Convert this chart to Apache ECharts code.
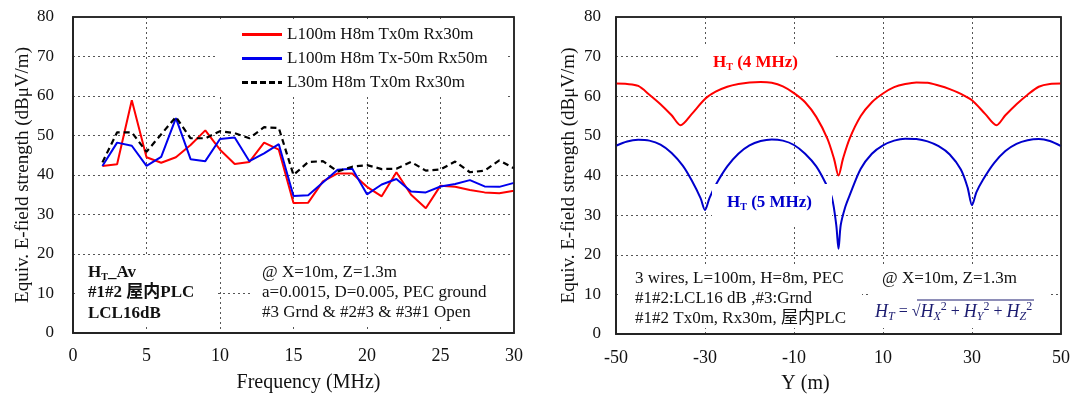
<!DOCTYPE html>
<html>
<head>
<meta charset="utf-8">
<script src="https://cdn.jsdelivr.net/npm/echarts@6/dist/echarts.min.js"></script>
<style>
html, body { margin: 0; padding: 0; background: #fff; }
#main { width: 1072px; height: 394px; }
</style>
</head>
<body>
<div id="main"></div>
<script>
// left panel: E-field vs frequency
var freqMHz = [2, 3, 4, 5, 6, 7, 8, 9, 10, 11, 12, 13, 14, 15, 16, 17, 18, 19, 20, 21, 22, 23, 24, 25, 26, 27, 28, 29, 30];
var l100Tx0 = [42.3, 42.7, 58.9, 44.5, 43.1, 44.5, 47.6, 51.3, 46.4, 42.8, 43.3, 48.2, 46.4, 32.9, 33.0, 38.4, 40.4, 40.4, 37.0, 34.6, 40.7, 35.0, 31.6, 37.3, 37.0, 36.2, 35.6, 35.4, 36.0];
var l100TxM50 = [42.3, 48.2, 47.4, 42.3, 44.6, 54.4, 44.0, 43.5, 49.1, 49.5, 43.5, 45.5, 47.8, 34.7, 34.9, 38.1, 41.3, 41.6, 35.1, 37.6, 39.0, 35.8, 35.6, 37.1, 37.7, 38.7, 37.1, 37.0, 38.0];
var l30Tx0 = [43.2, 50.8, 50.8, 45.9, 50.3, 54.7, 49.3, 49.3, 51.1, 50.6, 49.3, 52.1, 51.9, 40.0, 43.3, 43.5, 40.9, 42.1, 42.5, 41.5, 41.6, 43.3, 41.1, 41.4, 43.4, 40.7, 41.1, 43.7, 41.7];
var legendNames = ['L100m H8m Tx0m Rx30m', 'L100m H8m Tx-50m Rx50m', 'L30m H8m Tx0m Rx30m'];

// right panel: H_T along Y
var posY4 = [-50, -47.5, -45, -42.5, -40, -37.5, -35.5, -33, -30, -27.5, -25, -22.5, -20, -17.5, -15, -12.5, -10, -7.5, -5, -2.5, -1, 0, 1, 2.5, 5, 7.5, 10, 12.5, 15, 17.5, 20, 22.5, 25, 27.5, 30, 33, 35.5, 37.5, 40, 42.5, 45, 47.5, 50];
var ht4MHz = [63.2, 63.1, 62.6, 60.4, 58.0, 55.2, 52.7, 55.5, 59.3, 61.2, 62.4, 63.1, 63.5, 63.6, 63.4, 62.5, 60.8, 58.5, 54.8, 49.3, 44.2, 40.0, 44.2, 49.3, 55.0, 58.5, 60.7, 62.3, 63.1, 63.5, 63.4, 62.7, 61.8, 60.6, 59.0, 55.5, 52.7, 55.2, 58.0, 60.4, 62.4, 63.1, 63.2];
var posY5 = [-50, -47.5, -45, -42.5, -40, -37.5, -35, -33, -31, -30, -29, -27.5, -25, -22.5, -20, -17.5, -15, -12.5, -10, -7.5, -5, -3, -1.5, -0.5, 0, 0.5, 1.5, 2.5, 5, 7.5, 10, 12.5, 15, 17.5, 20, 22.5, 25, 27.5, 29, 30, 31, 32.5, 35, 37.5, 40, 42.5, 45, 47.5, 50];
var ht5MHz = [47.5, 48.6, 49.0, 48.8, 47.8, 45.7, 42.5, 38.8, 34.3, 31.3, 34.3, 37.8, 42.3, 45.5, 47.6, 48.7, 49.1, 48.8, 47.7, 45.5, 42.3, 38.3, 34.5, 27.5, 21.5, 27.5, 32.0, 35.0, 41.7, 45.5, 47.6, 48.8, 49.3, 49.2, 48.6, 47.4, 45.3, 41.5, 37.0, 32.5, 35.8, 39.0, 43.2, 46.2, 48.0, 48.9, 49.2, 48.7, 47.4];

var serif = '"Liberation Serif", "Times New Roman", "Noto Sans CJK SC", serif';
var yTitle = 'Equiv. E-field strength (dBμV/m)';

// legend swatches: a plain bar and a dashed bar
var solidIcon = 'path://M0,0H40V3H0Z';
var dashedIcon = 'path://M0,0H6V3H0Z M9,0H15V3H9Z M18,0H24V3H18Z M27,0H33V3H27Z M36,0H40V3H36Z';

var toPairs = function (xs, ys) {
    var out = [];
    for (var i = 0; i < xs.length; i++) {
        out.push([xs[i], ys[i]]);
    }
    return out;
};

var splitLine = { show: true, lineStyle: { color: '#555', type: [2, 3], width: 1 } };
var axisLine = { show: true, onZero: false, lineStyle: { color: '#222', width: 1.5 } };
var tickLabel = { color: '#111', fontFamily: serif, fontSize: 17 };

var whiteBox = function (x, y, w, h) {
    return { type: 'rect', z: 90, silent: true, shape: { x: x, y: y, width: w, height: h }, style: { fill: '#fff' } };
};

var frame = function (x, y, w, h) {
    return { type: 'rect', z: 110, silent: true, shape: { x: x, y: y, width: w, height: h }, style: { fill: 'none', stroke: '#222', lineWidth: 1.5 } };
};

var note = function (x, y, text, rich) {
    return { type: 'text', z: 100, silent: true, x: x, y: y, style: { text: text, rich: rich, fill: '#111', verticalAlign: 'top' } };
};

var richBold = function (color) {
    return {
        b: { fontFamily: serif, fontSize: 17, fontWeight: 'bold', lineHeight: 20.5, fill: color },
        s: { fontFamily: serif, fontSize: 10, fontWeight: 'bold', lineHeight: 9, verticalAlign: 'bottom', fill: color }
    };
};
var richPlain = { n: { fontFamily: serif, fontSize: 17, lineHeight: 20, fill: '#111' } };
var formulaColor = '#1c1c70';
var richFormula = {
    i: { fontFamily: serif, fontSize: 18, fontStyle: 'italic', lineHeight: 22, fill: formulaColor },
    s: { fontFamily: serif, fontSize: 12, fontStyle: 'italic', lineHeight: 9, verticalAlign: 'bottom', fill: formulaColor },
    p: { fontFamily: serif, fontSize: 12, lineHeight: 9, verticalAlign: 'top', fill: formulaColor },
    n: { fontFamily: serif, fontSize: 16, lineHeight: 22, fill: formulaColor }
};

var chart = echarts.init(document.getElementById('main'));
var option = {
    animation: false,
    backgroundColor: '#fff',
    grid: [
        { left: 73, top: 17, width: 441, height: 316, outerBoundsMode: 'none', show: true, borderColor: '#222', borderWidth: 1.5, backgroundColor: 'transparent' },
        { left: 616, top: 17, width: 445, height: 317, outerBoundsMode: 'none', show: true, borderColor: '#222', borderWidth: 1.5, backgroundColor: 'transparent' }
    ],
    legend: {
        data: [
            { name: legendNames[0], icon: solidIcon },
            { name: legendNames[1], icon: solidIcon },
            { name: legendNames[2], icon: dashedIcon }
        ],
        orient: 'vertical',
        left: 217,
        top: 19,
        padding: [7, 20, 6, 25],
        itemGap: 7,
        itemWidth: 40,
        itemHeight: 3,
        backgroundColor: '#fff',
        textStyle: { fontFamily: serif, fontSize: 17, color: '#111' }
    },
    xAxis: [{
        gridIndex: 0, type: 'value', min: 0, max: 30, interval: 5,
        name: 'Frequency (MHz)', nameLocation: 'middle', nameGap: 40,
        nameTextStyle: { fontFamily: serif, fontSize: 20, color: '#111', padding: [0, 0, 0, 30] },
        axisLine: axisLine, axisTick: { show: false },
        axisLabel: Object.assign({ margin: 14 }, tickLabel, { fontSize: 18 }),
        splitLine: splitLine
    }, {
        gridIndex: 1, type: 'value', min: -50, max: 50, interval: 20,
        name: 'Y (m)', nameLocation: 'middle', nameGap: 40,
        nameTextStyle: { fontFamily: serif, fontSize: 20, color: '#111', padding: [0, 66, 0, 0] },
        axisLine: axisLine, axisTick: { show: false },
        axisLabel: Object.assign({ margin: 15 }, tickLabel, { fontSize: 18 }),
        splitLine: splitLine
    }],
    yAxis: [{
        gridIndex: 0, type: 'value', min: 0, max: 80, interval: 10,
        name: yTitle, nameLocation: 'middle', nameGap: 40,
        nameTextStyle: { fontFamily: serif, fontSize: 19, color: '#111' },
        axisLine: axisLine, axisTick: { show: false },
        axisLabel: Object.assign({ margin: 19 }, tickLabel),
        splitLine: splitLine
    }, {
        gridIndex: 1, type: 'value', min: 0, max: 80, interval: 10,
        name: yTitle, nameLocation: 'middle', nameGap: 37,
        nameTextStyle: { fontFamily: serif, fontSize: 19, color: '#111' },
        axisLine: axisLine, axisTick: { show: false },
        axisLabel: Object.assign({ margin: 15 }, tickLabel),
        splitLine: splitLine
    }],
    series: [{
        name: legendNames[0], type: 'line', xAxisIndex: 0, yAxisIndex: 0,
        symbol: 'none', data: toPairs(freqMHz, l100Tx0),
        lineStyle: { color: '#ff0000', width: 2 }, itemStyle: { color: '#ff0000' }
    }, {
        name: legendNames[1], type: 'line', xAxisIndex: 0, yAxisIndex: 0,
        symbol: 'none', data: toPairs(freqMHz, l100TxM50),
        lineStyle: { color: '#0000ee', width: 2 }, itemStyle: { color: '#0000ee' }
    }, {
        name: legendNames[2], type: 'line', xAxisIndex: 0, yAxisIndex: 0,
        symbol: 'none', data: toPairs(freqMHz, l30Tx0),
        lineStyle: { color: '#000', width: 2.2, type: [6, 4] }, itemStyle: { color: '#000' }
    }, {
        name: 'HT 4MHz', type: 'line', xAxisIndex: 1, yAxisIndex: 1,
        symbol: 'none', smooth: 0.3, data: toPairs(posY4, ht4MHz),
        lineStyle: { color: '#ff0000', width: 2 }
    }, {
        name: 'HT 5MHz', type: 'line', xAxisIndex: 1, yAxisIndex: 1,
        symbol: 'none', smooth: 0.3, data: toPairs(posY5, ht5MHz),
        lineStyle: { color: '#0000cc', width: 2 }
    }],
    graphic: [
        whiteBox(76, 255, 142, 70),
        whiteBox(250, 258, 261, 69),
        whiteBox(698, 44, 135, 36),
        whiteBox(712, 184, 120, 41),
        whiteBox(619, 264, 243, 64),
        whiteBox(868, 264, 182, 64),
        frame(73, 17, 441, 316),
        frame(616, 17, 445, 317),
        note(88, 262, '{b|H}{s|T}{b|_Av}\n{b|#1#2 屋内PLC}\n{b|LCL16dB}', richBold('#111')),
        note(262, 263, '{n|@ X=10m, Z=1.3m}\n{n|a=0.0015, D=0.005, PEC ground}\n{n|#3 Grnd & #2#3 & #3#1 Open}', richPlain),
        note(713, 52, '{b|H}{s|T}{b| (4 MHz)}', richBold('#ff0000')),
        note(727, 192, '{b|H}{s|T}{b| (5 MHz)}', richBold('#0000cc')),
        note(635, 269, '{n|3 wires, L=100m, H=8m, PEC}\n{n|#1#2:LCL16 dB ,#3:Grnd}\n{n|#1#2 Tx0m, Rx30m, 屋内PLC}', richPlain),
        note(882, 269, '{n|@ X=10m, Z=1.3m}', richPlain),
        note(875, 301, '{i|H}{s|T}{n| = √}{i|H}{s|X}{p|2}{n| + }{i|H}{s|Y}{p|2}{n| + }{i|H}{s|Z}{p|2}', richFormula),
        { type: 'line', z: 100, silent: true, shape: { x1: 917, y1: 300, x2: 1034, y2: 300 }, style: { stroke: formulaColor, lineWidth: 1 } }
    ]
};
chart.setOption(option);
</script>
</body>
</html>
